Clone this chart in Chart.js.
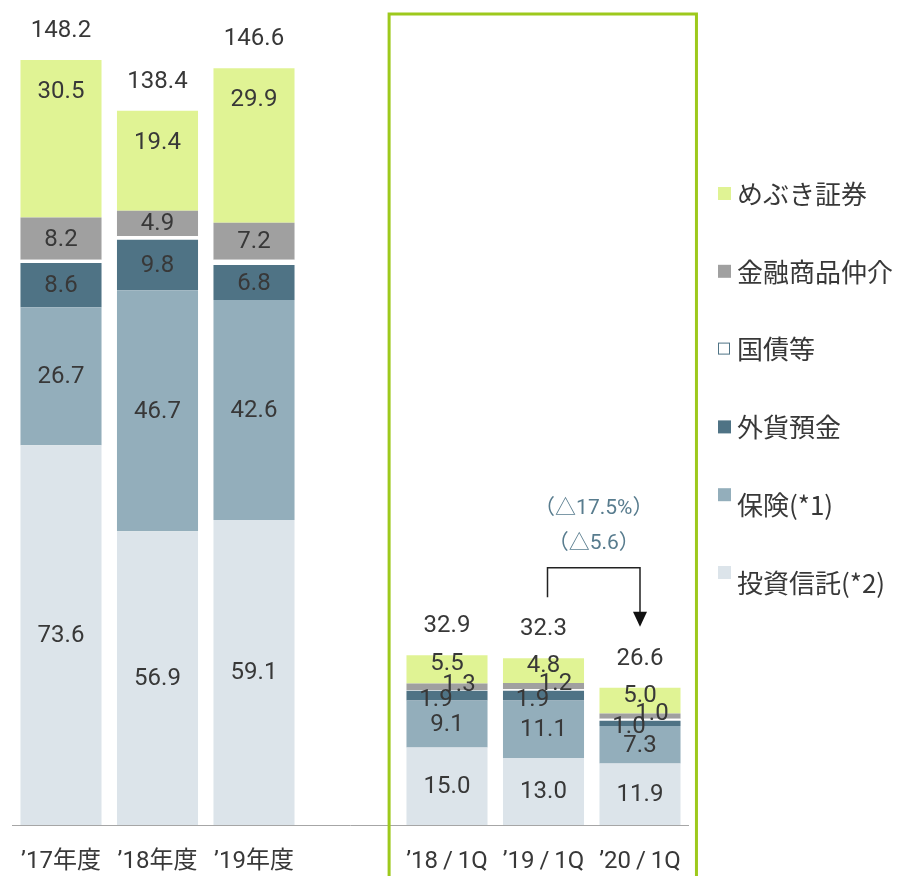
<!DOCTYPE html>
<html>
<head>
<meta charset="utf-8">
<script src="https://cdn.jsdelivr.net/npm/chart.js@4"></script>
<style>
html,body{margin:0;padding:0;background:#ffffff;}
#wrap{width:897px;height:876px;position:relative;}
</style>
</head>
<body>
<div id="wrap"><canvas id="c"></canvas></div>
<script>
// ---- data ----
const categories = ["’17年度", "’18年度", "’19年度", "", "’18\u2009/\u20091Q", "’19\u2009/\u20091Q", "’20\u2009/\u20091Q"];
const toushin = [73.6, 56.9, 59.1, null, 15.0, 13.0, 11.9];   // 投資信託(*2)
const hoken   = [26.7, 46.7, 42.6, null, 9.1, 11.1, 7.3];     // 保険(*1)
const gaika   = [8.6, 9.8, 6.8, null, 1.9, 1.9, 1.0];         // 外貨預金
const kokusai = [0.6, 0.7, 1.0, null, 0.1, 0.3, 0.4];         // 国債等
const chukai  = [8.2, 4.9, 7.2, null, 1.3, 1.2, 1.0];         // 金融商品仲介
const mebuki  = [30.5, 19.4, 29.9, null, 5.5, 4.8, 5.0];      // めぶき証券
const totals  = [148.2, 138.4, 146.6, null, 32.9, 32.3, 26.6];
const seriesNames = ["投資信託(*2)", "保険(*1)", "外貨預金", "国債等", "金融商品仲介", "めぶき証券"];
const changeLabels = ["（△17.5%）", "（△5.6）"];

const colors = ["#dce4ea", "#93aebb", "#4f7385", "#ffffff", "#a0a0a0", "#e0f394"];
const LABEL_FONT = '24px Roboto, "Noto Sans CJK JP", sans-serif';
const TEXT_COLOR = "#383838";

const seriesData = [toushin, hoken, gaika, kokusai, chukai, mebuki];

const datasets = seriesData.map((d, i) => ({
  label: seriesNames[i],
  data: d,
  backgroundColor: colors[i],
  borderWidth: 0,
  barPercentage: 0.84,
  categoryPercentage: 1.0
}));

const overlay = {
  id: "overlay",
  afterDatasetsDraw(chart) {
    const ctx = chart.ctx;
    const xs = chart.scales.x, ys = chart.scales.y;
    const slot = xs.getPixelForValue(1) - xs.getPixelForValue(0);
    ctx.save();
    ctx.font = LABEL_FONT;
    ctx.fillStyle = TEXT_COLOR;
    ctx.textAlign = "center";
    ctx.textBaseline = "middle";
    // segment labels
    chart.data.datasets.forEach((ds, di) => {
      if (di === 3) return; // 国債等: no labels
      const meta = chart.getDatasetMeta(di);
      ds.data.forEach((v, i) => {
        if (v === null) return;
        const el = meta.data[i];
        const top = Math.min(el.y, el.base), bot = Math.max(el.y, el.base);
        const h = bot - top;
        let x = el.x, y = (top + bot) / 2;
        if (di === 5) y = top + Math.min(31, h / 2 - 6);
        if (di === 4 && h < 15) { x += 12; y -= 3; }
        if (di === 2 && h < 15) { x -= 11; y += 3; }
        ctx.fillText(v.toFixed(1), x, y + 1);
      });
    });
    // totals
    totals.forEach((t, i) => {
      if (t === null) return;
      ctx.fillText(t.toFixed(1), xs.getPixelForValue(i), ys.getPixelForValue(t) - 29);
    });
    // green frame around quarterly bars
    ctx.strokeStyle = "#9dc91c";
    ctx.lineWidth = 3;
    const gl = xs.getPixelForValue(3) + 0.4 * slot;
    const gr = xs.getPixelForValue(6) + 0.585 * slot;
    ctx.strokeRect(gl, 14, gr - gl, 900);
    // arrow from '19/1Q to '20/1Q
    const ax1 = xs.getPixelForValue(5) + 4, ax2 = xs.getPixelForValue(6);
    const ayTop = ys.getPixelForValue(totals[5]) - 90.5;
    const ayStart = ys.getPixelForValue(totals[5]) - 61;
    const ayTip = ys.getPixelForValue(totals[6]) - 61;
    ctx.strokeStyle = "#222222";
    ctx.lineWidth = 1.5;
    ctx.beginPath();
    ctx.moveTo(ax1, ayStart);
    ctx.lineTo(ax1, ayTop);
    ctx.lineTo(ax2, ayTop);
    ctx.lineTo(ax2, ayTip - 14);
    ctx.stroke();
    ctx.fillStyle = "#111111";
    ctx.beginPath();
    ctx.moveTo(ax2 - 7, ayTip - 15);
    ctx.lineTo(ax2 + 7, ayTip - 15);
    ctx.lineTo(ax2, ayTip);
    ctx.closePath();
    ctx.fill();
    // change labels
    ctx.fillStyle = "#587c8e";
    ctx.font = '21px Roboto, "Noto Sans CJK JP", sans-serif';
    const cx = (ax1 + ax2) / 2;
    ctx.fillText(changeLabels[0], cx, ayTop - 59);
    ctx.fillText(changeLabels[1], cx, ayTop - 24);
    ctx.restore();
  },
  afterDraw(chart) {
    const ctx = chart.ctx;
    ctx.save();
    ctx.font = '26px "Noto Sans CJK JP", sans-serif';
    ctx.textAlign = "left";
    ctx.textBaseline = "middle";
    const n = seriesNames.length;
    for (let k = 0; k < n; k++) {
      const di = n - 1 - k;
      const y = 193 + k * 77.8;
      const sy = (di <= 1) ? y - 10 : y;
      if (di === 3) {
        ctx.fillStyle = "#ffffff";
        ctx.fillRect(718.5, sy - 6, 12, 12);
        ctx.strokeStyle = "#4f7385";
        ctx.lineWidth = 1;
        ctx.strokeRect(718.5, sy - 5.5, 11, 11);
      } else {
        ctx.fillStyle = colors[di];
        ctx.fillRect(718, sy - 6, 13, 13);
      }
      ctx.fillStyle = TEXT_COLOR;
      ctx.fillText(seriesNames[di], 737, y + 1);
    }
    ctx.restore();
  }
};

new Chart(document.getElementById("c"), {
  type: "bar",
  data: { labels: categories, datasets },
  options: {
    responsive: true,
    maintainAspectRatio: false,
    animation: false,
    layout: { padding: { left: 12.75, right: 208.75, top: 25, bottom: 0 } },
    plugins: { legend: { display: false }, tooltip: { enabled: false } },
    scales: {
      x: {
        stacked: true,
        grid: { display: false },
        border: { display: true, color: "#a6a6a6", width: 1 },
        ticks: { color: TEXT_COLOR, font: { family: 'Roboto, "Noto Sans CJK JP", sans-serif', size: 24 }, padding: 15, maxRotation: 0, autoSkip: false },
        afterFit(s) { s.height = 51; }
      },
      y: {
        stacked: true,
        display: false,
        min: 0,
        max: 155
      }
    }
  },
  plugins: [overlay]
});
</script>
</body>
</html>
